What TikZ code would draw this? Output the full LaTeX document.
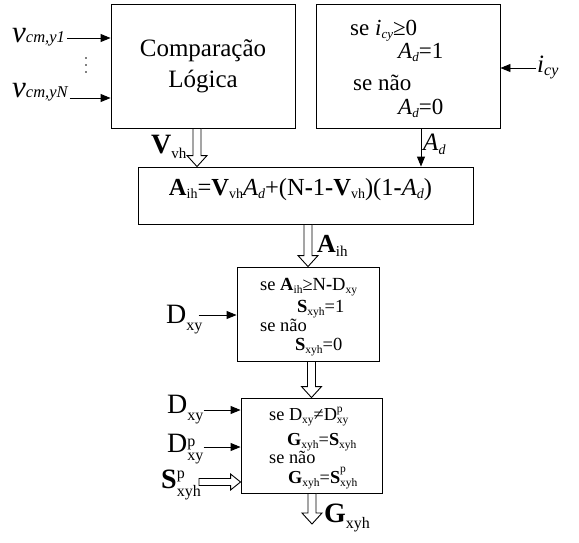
\documentclass[tikz,border=0pt]{standalone}
\usepackage{fontspec}
\setmainfont{Liberation Serif}
\usetikzlibrary{arrows.meta,calc}
\newcommand\lo[3]{\raisebox{#1}{\fontsize{#2}{#2}\selectfont #3}}
% size, line spacing, lowering, sup, sub
\newcommand\supsb[5]{\raisebox{#3}{\fontsize{#1}{#2}\selectfont\shortstack[l]{#4\\#5}}}
\newcommand\hollowdown[2]{\path[hol] let \p1=#1, \p2=#2 in (\x1-4pt,\y1) -- (\x1-4pt,\y2+11pt) -- (\x1-10pt,\y2+11pt) -- (\x1,\y2) -- (\x1+10pt,\y2+11pt) -- (\x1+4pt,\y2+11pt) -- (\x1+4pt,\y1) -- cycle;}
\newcommand\hollowright[2]{\path[hol] let \p1=#1, \p2=#2 in (\x1,\y1+3.5pt) -- (\x2-10pt,\y1+3.5pt) -- (\x2-10pt,\y1+8pt) -- (\x2,\y1) -- (\x2-10pt,\y1-8pt) -- (\x2-10pt,\y1-3.5pt) -- (\x1,\y1-3.5pt) -- cycle;}
\begin{document}
\begin{tikzpicture}[x=1pt,y=-1pt,
  box/.style={draw,line width=0.9pt,inner sep=0pt},
  lbl/.style={inner sep=0pt,anchor=base west},
  arr/.style={line width=0.9pt,-{Triangle[length=10pt,width=8pt]}},
  hol/.style={draw,fill=white,line width=0.9pt,line join=miter}]
\useasboundingbox (0,0) rectangle (579,542);
% boxes
\node[box,minimum width=184pt,minimum height=124pt] (box1) at (203,66) {};
\node[box,minimum width=184pt,minimum height=124pt] (box2) at (408,66) {};
\node[box,minimum width=335pt,minimum height=57pt] (box3) at (305.5,195.5) {};
\node[box,minimum width=142pt,minimum height=94pt] (box4) at (308,314) {};
\node[box,minimum width=141pt,minimum height=95pt] (box5) at (311.5,445.5) {};
% box1 text
\node[align=center,font=\fontsize{25}{31}\selectfont] (t1) at (203,66) {Comparação\\Lógica};
% box2 text
\begin{scope}[font=\fontsize{23}{23}\selectfont]
\node[lbl] (b2a) at (350,35) {se \textit{i}\lo{-3.5pt}{13pt}{\textit{cy}}≥0};
\node[lbl] (b2b) at (398,58) {\textit{A}\lo{-3.5pt}{13pt}{\textit{d}}=1};
\node[lbl] (b2c) at (353,90) {se não};
\node[lbl] (b2d) at (398,114) {\textit{A}\lo{-3.5pt}{13pt}{\textit{d}}=0};
\end{scope}
% box3 text
\node[inner sep=0pt,anchor=base,font=\fontsize{24.5}{24.5}\selectfont] (t3) at (300.5,195)
 {\textbf{A}\lo{-3.5pt}{14pt}{ih}=\textbf{V}\lo{-3.5pt}{14pt}{vh}\textit{A}\lo{-3.5pt}{14pt}{\textit{d}}+(N\textbf{-}1\textbf{-}\textbf{V}\lo{-3.5pt}{14pt}{vh})(1\textbf{-}\textit{A}\lo{-3.5pt}{14pt}{\textit{d}})};
% box4 text
\begin{scope}[font=\fontsize{18.5}{18.5}\selectfont]
\node[lbl] (b4a) at (260,290) {se \textbf{A}\lo{-3pt}{11.5pt}{ih}≥N\textbf{-}D\lo{-3pt}{11.5pt}{xy}};
\node[lbl] (b4b) at (297,312) {\textbf{S}\lo{-3pt}{11.5pt}{xyh}=1};
\node[lbl] (b4c) at (260,331) {se não};
\node[lbl] (b4d) at (295,350) {\textbf{S}\lo{-3pt}{11.5pt}{xyh}=0};
\end{scope}
% box5 text
\begin{scope}[font=\fontsize{18.3}{18.3}\selectfont]
\node[lbl] (b5a) at (269,420) {se D\lo{-3pt}{11.5pt}{xy}≠D\supsb{11.5pt}{9.5pt}{-3pt}{p}{xy}};
\node[lbl] (b5b) at (287,445) {\textbf{G}\lo{-3pt}{11.5pt}{xyh}=\textbf{S}\lo{-3pt}{11.5pt}{xyh}};
\node[lbl] (b5c) at (269,463) {se não};
\node[lbl] (b5d) at (288,483) {\textbf{G}\lo{-3pt}{11.5pt}{xyh}=\textbf{S}\supsb{11.5pt}{9.5pt}{-3pt}{p}{xyh}};
\end{scope}
% outside labels
\node[lbl] (v1) at (12,42) {\fontsize{31}{31}\selectfont\textit{v}\lo{0pt}{16.5pt}{\textit{cm,y1}}};
\node[lbl] (vN) at (12,97) {\fontsize{31}{31}\selectfont\textit{v}\lo{0pt}{16.5pt}{\textit{cm,yN}}};
\node[lbl] (icy) at (537,72) {\fontsize{25}{25}\selectfont\textit{i}\lo{-3pt}{16pt}{\textit{cy}}};
\node[lbl] (vvh) at (151,153) {\fontsize{28}{28}\selectfont\textbf{V}\lo{-5pt}{15pt}{vh}};
\node[lbl] (ad) at (423,150) {\fontsize{25}{25}\selectfont\textit{A}\lo{-4pt}{14pt}{\textit{d}}};
\node[lbl] (aih) at (317,252) {\fontsize{26}{26}\selectfont\textbf{A}\lo{-4pt}{15pt}{ih}};
\node[lbl] (dxy4) at (166,323) {\fontsize{28}{28}\selectfont D\lo{-7pt}{16pt}{xy}};
\node[lbl] (dxy5) at (167,413) {\fontsize{28}{28}\selectfont D\lo{-7pt}{16pt}{xy}};
\node[lbl] (dpxy) at (167,452) {\fontsize{28}{28}\selectfont D\supsb{16pt}{16pt}{-8pt}{p}{xy}};
\node[lbl] (spxyh) at (161,488) {\fontsize{28}{28}\selectfont\textbf{S}\supsb{16pt}{16pt}{-8pt}{p}{xyh}};
\node[lbl] (gxyh) at (324,522) {\fontsize{28}{28}\selectfont\textbf{G}\lo{-6pt}{16pt}{xyh}};
\coordinate (gtip) at (312,524);
% dots
\foreach \yy in {58,65,72} \fill (86,\yy) circle (0.8);
% arrows
\draw[arr] ([yshift=4pt,xshift=2pt]v1.base east) -- ([yshift=4pt]v1.base east -| box1.west);
\draw[arr] ([yshift=-1pt,xshift=1pt]vN.base east) -- ([yshift=-1pt]vN.base east -| box1.west);
\draw[arr] ([yshift=4pt,xshift=-1pt]icy.base west) -- ([yshift=4pt]icy.base west -| box2.east);
\draw[arr] ([xshift=13pt]box2.south) -- ([xshift=13pt]box2.south |- box3.north);
\draw[arr] ([yshift=8pt,xshift=-4pt]dxy4.base east) -- ([yshift=8pt]dxy4.base east -| box4.west);
\draw[arr] ([yshift=3pt]dxy5.base east) -- ([yshift=3pt]dxy5.base east -| box5.west);
\draw[arr] ([yshift=5pt]dpxy.base east) -- ([yshift=5pt]dpxy.base east -| box5.west);
\hollowdown{([xshift=-6pt]box1.south)}{(box3.north)}
\hollowdown{(box4.north |- box3.south)}{(box4.north)}
\hollowdown{(box5.north |- box4.south)}{(box5.north)}
\hollowdown{(gtip |- box5.south)}{(gtip)}
\hollowright{([yshift=6pt,xshift=-2pt]spxyh.base east)}{([yshift=6pt]spxyh.base east -| box5.west)}
\end{tikzpicture}
\end{document}
